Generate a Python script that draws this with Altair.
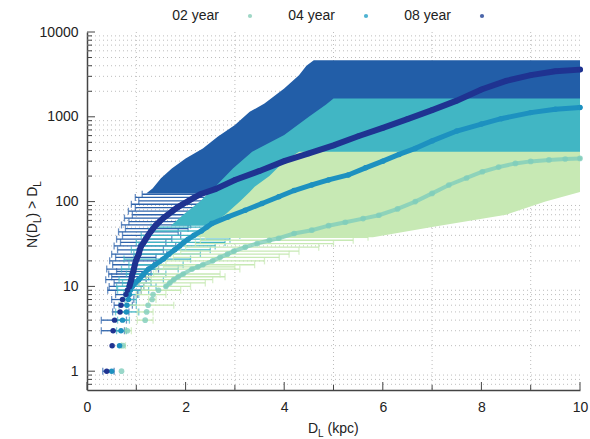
import altair as alt
import pandas as pd

FONT = "Liberation Sans"

series_names = ["02 year", "04 year", "08 year"]

# ---- cumulative source counts: distance (kpc) and number of sources ----
d08 = [0.40, 0.51, 0.53, 0.56, 0.67, 0.69, 0.72, 0.79, 0.82, 0.86,
       0.88, 0.90, 0.91, 0.92, 0.94, 0.95, 0.97, 0.99, 1.02, 1.05,
       1.07, 1.10, 1.15, 1.19, 1.24, 1.29, 1.34, 1.40, 1.47, 1.55,
       1.64, 1.73, 1.83, 1.94, 2.06, 2.18, 2.30, 2.60, 3.00, 3.50,
       4.00, 4.50, 5.00, 5.50, 6.00, 6.50, 7.00, 7.50, 8.00, 8.50,
       9.00, 9.50, 10.00]
n08 = [1, 2, 3, 4, 5, 6, 7, 8, 9, 10,
       11, 12, 13, 14, 15, 16, 18, 20, 22, 24,
       27, 30, 33, 36, 40, 44, 48, 53, 58, 64,
       70, 77, 85, 93, 102, 112, 122, 140, 180, 230,
       300, 370, 460, 590, 740, 940, 1200, 1550, 2100, 2650,
       3100, 3450, 3600]

d04 = [0.50, 0.66, 0.69, 0.72, 0.80, 0.81, 0.84, 0.86, 0.88, 0.92,
       0.98, 1.05, 1.15, 1.25, 1.38, 1.55, 1.66, 1.78, 1.88, 1.96,
       2.05, 2.17, 2.32, 2.43, 2.53, 2.86, 3.21, 3.55, 3.89, 4.20,
       4.56, 4.90, 5.30, 5.65, 6.00, 6.33, 6.66, 7.00, 7.50, 8.00,
       8.40, 9.00, 9.50, 10.00]
n04 = [1, 2, 3, 4, 5, 6, 7, 8, 9, 10,
       11, 12, 14, 16, 18, 21, 24, 27, 30, 33,
       36, 40, 45, 50, 55, 66, 79, 95, 114, 135,
       157, 180, 206, 250, 300, 360, 424, 520, 680, 820,
       950, 1120, 1230, 1290]

d02 = [0.70, 0.73, 0.82, 1.18, 1.21, 1.24, 1.32, 1.34, 1.45, 1.60,
       1.68, 1.76, 1.85, 1.95, 2.13, 2.25, 2.35, 2.55, 2.70, 2.85,
       2.98, 3.21, 3.45, 3.70, 3.89, 4.20, 4.56, 4.90, 5.24, 5.60,
       5.92, 6.30, 6.66, 7.00, 7.34, 7.70, 8.02, 8.35, 8.69, 9.00,
       9.37, 9.70, 10.00]
n02 = [1, 2, 3, 4, 5, 6, 7, 8, 9, 10,
       11, 12, 13, 14, 16, 17, 18, 20, 22, 24,
       26, 29, 32, 35, 37, 42, 46, 52, 57, 63,
       69, 82, 100, 125, 157, 190, 225, 255, 282, 298,
       310, 318, 323]

# ---- distance error bars of the individual sources at low counts ----
eb08_n = [1, 3, 4, 5, 6, 7, 8, 9, 10, 11, 12, 13, 14, 15, 16, 18, 20, 22,
          24, 27, 30, 33, 36, 40, 44, 48, 53, 58, 64, 70, 77, 85, 93, 102,
          112, 122]
eb08_lo = [0.32, 0.29, 0.29, 0.52, 0.55, 0.50, 0.58, 0.42, 0.45, 0.55, 0.38,
           0.50, 0.44, 0.60, 0.40, 0.52, 0.46, 0.58, 0.50, 0.62, 0.55, 0.68,
           0.60, 0.72, 0.64, 0.78, 0.70, 0.85, 0.76, 0.92, 0.84, 0.98, 0.90,
           1.05, 0.98, 1.12]
eb08_hi = [0.55, 0.76, 0.80, 0.85, 0.92, 0.95, 1.02, 1.10, 1.15, 1.05, 1.20,
           1.25, 1.30, 1.20, 1.45, 1.35, 1.50, 1.40, 1.62, 1.55, 1.80, 1.60,
           1.72, 1.90, 1.85, 2.05, 2.10, 2.00, 2.25, 2.40, 2.30, 2.55, 2.70,
           2.85, 3.00, 3.10]

eb04_n = [3, 4, 5, 6, 7, 8, 9, 10, 11, 12, 14, 16, 18, 21, 24, 27, 30, 33,
          36, 40, 45, 50]
eb04_lo = [0.60, 0.62, 0.58, 0.65, 0.77, 0.75, 0.62, 0.60, 0.72, 0.65, 0.80,
           0.70, 0.85, 0.75, 0.95, 0.90, 1.05, 1.00, 1.15, 1.10, 1.25, 1.30]
eb04_hi = [0.80, 0.86, 1.05, 1.00, 1.00, 1.05, 1.25, 1.40, 1.30, 1.55, 1.60,
           1.85, 1.95, 2.10, 2.30, 2.50, 2.60, 2.80, 2.90, 3.10, 3.30, 3.50]

eb02_n = [2, 3, 4, 5, 6, 7, 8, 9, 10, 11, 12, 13, 14, 16, 17, 18, 20, 22,
          24, 26, 29, 32, 35, 38]
eb02_lo = [0.70, 0.78, 1.02, 1.02, 0.80, 1.25, 1.00, 1.10, 1.15, 1.05, 1.30,
           1.20, 1.35, 1.40, 1.55, 1.45, 1.60, 1.75, 1.70, 1.90, 2.00, 2.20,
           2.30, 2.40]
eb02_hi = [0.78, 0.90, 1.34, 1.34, 1.76, 1.40, 1.60, 1.90, 2.10, 2.40, 2.55,
           2.80, 2.70, 3.10, 3.00, 3.40, 3.60, 3.90, 4.10, 4.30, 4.70, 5.00,
           5.40, 5.70]

# ---- envelopes of the densely packed error bars ----
band08_n = [125, 143, 188, 246, 323, 424, 582, 798, 1145, 1435, 2154, 3100,
            4000, 4650]
band08_left = [1.20, 1.33, 1.50, 1.72, 2.00, 2.35, 2.65, 3.00, 3.30, 3.60,
               4.00, 4.30, 4.45, 4.60]
band08_right = [3.0, 10, 10, 10, 10, 10, 10, 10, 10, 10, 10, 10, 10, 10]

band04_n = [52, 70, 100, 150, 246, 387, 611, 1000, 1400, 1641]
band04_left = [1.70, 1.95, 2.29, 2.60, 2.96, 3.35, 4.00, 4.50, 4.85, 5.00]
band04_right = [3.6, 5.0, 7.5, 10, 10, 10, 10, 10, 10, 10]

band02_n = [38, 50, 70, 100, 130, 150, 200, 300, 387]
band02_left = [2.20, 2.40, 2.80, 3.10, 3.30, 3.40, 3.70, 4.00, 4.30]
band02_right = [5.8, 7.0, 8.5, 9.3, 10, 10, 10, 10, 10]

# ---- colours (bars, points, legend symbol) ----
bar_colors = {"08 year": "#225ea8", "04 year": "#41b6c4", "02 year": "#c7e9b4"}
pt_colors = {"08 year": "#1f3391", "04 year": "#1d91c0", "02 year": "#7fcdbb"}
legend_colors = {"02 year": "#9fd7c6", "04 year": "#4fb3d2", "08 year": "#4a65a9"}

# ---- axes / scales ----
W, H = 493, 358
xscale = alt.Scale(domain=[0, 10], nice=False, zero=False)
yscale = alt.Scale(type="log", domain=[0.6, 10000], nice=False)
xaxis = alt.Axis(values=[0, 2, 4, 6, 8, 10], ticks=False, grid=False,
                 labelFont=FONT, labelFontSize=14, labelColor="#222222",
                 labelPadding=10, labelFlush=False, labelOverlap=False,
                 labelAngle=0, format="d", domainColor="#444444",
                 domainWidth=1.5, title=None)
yaxis = alt.Axis(values=[1, 10, 100, 1000, 10000], ticks=False, grid=False,
                 labelFont=FONT, labelFontSize=14, labelColor="#222222",
                 labelPadding=9, labelOverlap=False, format="d",
                 domainColor="#444444", domainWidth=1.5, title=None)


def X(field):
    return alt.X(f"{field}:Q", scale=xscale, axis=xaxis)


def Y(field):
    return alt.Y(f"{field}:Q", scale=yscale, axis=yaxis)


layers = []

# dotted grid on the minor ticks
x_minor = [1, 3, 5, 7, 9]
x_major = [0, 2, 4, 6, 8, 10]
y_major = [1, 10, 100, 1000, 10000]
y_minor = [0.7, 0.8, 0.9] + [m * 10 ** k for k in range(4) for m in range(2, 10)]

grid_style = dict(color="#bdbdbd", strokeWidth=1, strokeDash=[1, 3])
layers.append(alt.Chart(pd.DataFrame({"v": y_minor})).mark_rule(**grid_style)
              .encode(y=Y("v")))
layers.append(alt.Chart(pd.DataFrame({"v": x_minor})).mark_rule(**grid_style)
              .encode(x=X("v")))


def band(n, left, right, color):
    df = pd.DataFrame({"N": n, "left": left, "right": right})
    return (alt.Chart(df).mark_area(orient="horizontal", color=color, opacity=1)
            .encode(y=Y("N"), x=X("left"), x2=alt.X2("right")))


def errbars(n, lo, hi, color):
    df = pd.DataFrame({"N": n, "lo": lo, "hi": hi})
    base = alt.Chart(df)
    rule = base.mark_rule(color=color, strokeWidth=1.3).encode(
        y=Y("N"), x=X("lo"), x2=alt.X2("hi"))
    cap_lo = base.mark_tick(color=color, orient="vertical", size=7,
                            thickness=1.3).encode(x=X("lo"), y=Y("N"))
    cap_hi = base.mark_tick(color=color, orient="vertical", size=7,
                            thickness=1.3).encode(x=X("hi"), y=Y("N"))
    return [rule, cap_lo, cap_hi]


layers.append(band(band08_n, band08_left, band08_right, bar_colors["08 year"]))
layers += errbars(eb08_n, eb08_lo, eb08_hi, "#2d63ab")
layers.append(band(band04_n, band04_left, band04_right, bar_colors["04 year"]))
layers += errbars(eb04_n, eb04_lo, eb04_hi, bar_colors["04 year"])
layers.append(band(band02_n, band02_left, band02_right, bar_colors["02 year"]))
layers += errbars(eb02_n, eb02_lo, eb02_hi, bar_colors["02 year"])


def curve(d, n, color, width, size, opacity):
    df = pd.DataFrame({"D": d, "N": n})
    base = alt.Chart(df)
    line = (base.transform_filter(alt.datum.N >= 10)
            .mark_line(color=color, strokeWidth=width, opacity=opacity,
                       strokeCap="round")
            .encode(x=X("D"), y=Y("N"), order="N:Q"))
    pts = base.mark_circle(color=color, size=size, opacity=opacity).encode(
        x=X("D"), y=Y("N"))
    return [line, pts]


layers += curve(d02, n02, pt_colors["02 year"], 4, 32, 0.8)
layers += curve(d04, n04, pt_colors["04 year"], 5, 30, 1)
layers += curve(d08, n08, pt_colors["08 year"], 6, 30, 1)

# inward tick marks on the left and bottom axes
tick_col = "#444444"
layers.append(alt.Chart(pd.DataFrame({"v": y_major})).mark_rule(color=tick_col)
              .encode(y=Y("v"), x=alt.value(0), x2=alt.value(8)))
layers.append(alt.Chart(pd.DataFrame({"v": y_minor})).mark_rule(color=tick_col)
              .encode(y=Y("v"), x=alt.value(0), x2=alt.value(5)))
layers.append(alt.Chart(pd.DataFrame({"v": x_major})).mark_rule(color=tick_col)
              .encode(x=X("v"), y=alt.value(H), y2=alt.value(H - 8)))
layers.append(alt.Chart(pd.DataFrame({"v": x_minor})).mark_rule(color=tick_col)
              .encode(x=X("v"), y=alt.value(H), y2=alt.value(H - 5)))


def text(s, x, y, size=14, angle=0, align="left"):
    return alt.Chart(pd.DataFrame({"t": [s]})).mark_text(
        text=s, font=FONT, fontSize=size, color="#222222", align=align,
        baseline="alphabetic", angle=angle).encode(
        x=alt.value(x), y=alt.value(y))


# axis titles with subscripts
layers.append(text("D", 221, 401))
layers.append(text("L", 231.1, 405, size=10))
layers.append(text("(kpc)", 240.6, 401))

ty = 216
layers.append(text("N(D", -50, ty, angle=270))
ty -= 24.9
layers.append(text("L", -46, ty, size=10, angle=270))
ty -= 5.6
layers.append(text(")", -50, ty, angle=270))
ty -= 4.7 + 3.9
layers.append(text("> D", -50, ty, angle=270))
ty -= 22.2
layers.append(text("L", -46, ty, size=10, angle=270))

# legend across the top: label followed by its marker
for i, name in enumerate(series_names):
    label_end = 132 + 116 * i
    layers.append(alt.Chart(pd.DataFrame({"t": [name]})).mark_text(
        text=name, font=FONT, fontSize=14, color="#222222", align="right",
        baseline="middle").encode(x=alt.value(label_end), y=alt.value(-16)))
    layers.append(alt.Chart(pd.DataFrame({"t": [name]})).mark_circle(
        color=legend_colors[name], size=18, opacity=1).encode(
        x=alt.value(label_end + 31), y=alt.value(-16)))

chart = (alt.layer(*layers)
         .properties(width=W, height=H,
                     autosize=alt.AutoSizeParams(type="none"),
                     padding={"left": 87, "top": 32, "right": 10, "bottom": 49},
                     background="white")
         .configure_view(stroke=None))

chart.save("out.html", embed_options={"renderer": "svg", "actions": False})
